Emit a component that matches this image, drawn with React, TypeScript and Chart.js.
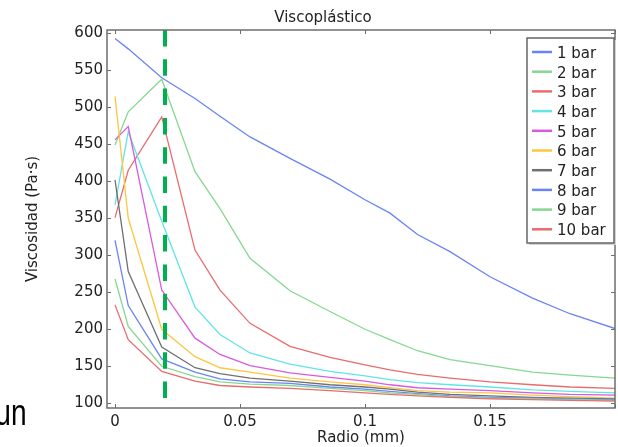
import { useEffect, useRef } from "react";
import { Chart, registerables } from "chart.js";

Chart.register(...registerables);

// ---- data ----
const radio = [0, 0.0053, 0.0187, 0.032, 0.042, 0.054, 0.07, 0.086, 0.1, 0.11, 0.121, 0.134, 0.15, 0.167, 0.182, 0.2];

const bar1 = [593, 579, 540, 512, 488, 460, 431, 403, 375, 357, 328, 305, 271, 242, 221, 201];
const bar2 = [449, 494, 538, 413, 363, 296, 252, 224, 200, 186, 171, 159, 151, 142, 138, 134];
const bar3 = [351, 415, 487, 307, 253, 208, 177, 162, 152, 145, 139, 134, 129, 125, 122, 120];
const bar4 = [368, 467, 346, 230, 193, 168, 153, 143, 137, 132, 128, 125, 122, 118, 116, 114];
const bar5 = [456, 474, 253, 188, 166, 151, 141, 135, 130, 125, 121, 119, 117, 114, 112, 111];
const bar6 = [515, 350, 200, 163, 148, 142, 134, 129, 125, 121, 117, 115, 114, 111, 109, 107];
const bar7 = [402, 278, 176, 148, 140, 134, 130, 125, 122, 119, 115, 112, 110, 108, 107, 106];
const bar8 = [320, 232, 160, 142, 133, 129, 127, 122, 119, 116, 113, 110, 108, 107, 106, 105];
const bar9 = [268, 204, 150, 136, 129, 126, 124, 120, 117, 114, 112, 109, 107, 106, 105, 104];
const bar10 = [233, 186, 143, 130, 124, 122, 120, 117, 114, 112, 110, 108, 106, 105, 104, 103];

const seriesValues = [bar1, bar2, bar3, bar4, bar5, bar6, bar7, bar8, bar9, bar10];
const seriesLabels = ["1 bar", "2 bar", "3 bar", "4 bar", "5 bar", "6 bar", "7 bar", "8 bar", "9 bar", "10 bar"];
const seriesColors = [
  "#6a84f6", "#86d890", "#e86c6c", "#62e4e6", "#d85ade",
  "#fcc641", "#707070", "#6a84f6", "#86d890", "#e86c6c",
];

const xTickLabels = [0, 0.05, 0.1, 0.15];
const xTickMarks = [0, 0.05, 0.1, 0.15, 0.2];
const yTicks = [100, 150, 200, 250, 300, 350, 400, 450, 500, 550, 600];
const xMin = -0.0032;
const xMax = 0.2;
const yMin = 93.6;
const yMax = 604.5;
const markerRadius = 0.02;

const chartTitle = "Viscoplástico";
const xTitle = "Radio (mm)";
const yTitle = "Viscosidad (Pa·s)";
const sideText = "un";

const FONT = '"DejaVu Sans", sans-serif';

const decorPlugin = {
  id: "decor",
  afterDatasetsDraw(chart: any) {
    const { ctx, chartArea: a, scales } = chart;
    const px = scales.x.getPixelForValue(markerRadius);
    ctx.save();
    ctx.beginPath();
    ctx.rect(a.left, a.top, a.right - a.left, a.bottom - a.top);
    ctx.clip();
    ctx.strokeStyle = "#00b050";
    ctx.lineWidth = 4;
    ctx.setLineDash([16.5, 12.8]);
    ctx.beginPath();
    ctx.moveTo(px, a.top);
    ctx.lineTo(px, a.bottom);
    ctx.stroke();
    ctx.restore();
  },
  afterDraw(chart: any) {
    const { ctx, chartArea: a, scales } = chart;
    ctx.save();
    // frame
    ctx.strokeStyle = "#6e6e6e";
    ctx.lineWidth = 1.5;
    ctx.strokeRect(a.left, a.top, a.right - a.left, a.bottom - a.top);
    // inward tick marks
    ctx.lineWidth = 1;
    ctx.beginPath();
    yTicks.forEach((v) => {
      const py = Math.round(scales.y.getPixelForValue(v)) + 0.5;
      ctx.moveTo(a.left, py);
      ctx.lineTo(a.left + 4, py);
      ctx.moveTo(a.right, py);
      ctx.lineTo(a.right - 4, py);
    });
    xTickMarks.forEach((v) => {
      const px = Math.round(scales.x.getPixelForValue(v)) + 0.5;
      ctx.moveTo(px, a.bottom);
      ctx.lineTo(px, a.bottom - 4);
      ctx.moveTo(px, a.top);
      ctx.lineTo(px, a.top + 4);
    });
    ctx.stroke();

    // title
    ctx.fillStyle = "#222";
    ctx.font = `15px ${FONT}`;
    ctx.textAlign = "center";
    ctx.textBaseline = "alphabetic";
    ctx.fillText(chartTitle, 323, 21.5);

    // legend
    const lx = 527, ly = 38, lw = 87, lh = 205;
    ctx.fillStyle = "#d4d4d4";
    ctx.fillRect(lx + 2, ly + 2, lw, lh);
    ctx.fillStyle = "#ffffff";
    ctx.fillRect(lx, ly, lw, lh);
    ctx.strokeStyle = "#666";
    ctx.lineWidth = 1.5;
    ctx.strokeRect(lx, ly, lw, lh);
    ctx.textAlign = "left";
    ctx.font = `15px ${FONT}`;
    chart.data.datasets.forEach((ds: any, i: number) => {
      const cy = 52 + i * 19.7;
      ctx.strokeStyle = ds.borderColor;
      ctx.lineWidth = 2.5;
      ctx.beginPath();
      ctx.moveTo(lx + 5, cy);
      ctx.lineTo(lx + 25, cy);
      ctx.stroke();
      ctx.fillStyle = "#222";
      ctx.fillText(ds.label, lx + 30, cy + 5.8);
    });

    // stray text at bottom-left (condensed)
    ctx.fillStyle = "#000";
    ctx.font = '36px "Liberation Sans", sans-serif';
    ctx.textAlign = "left";
    ctx.translate(-4.7, 424.5);
    ctx.scale(0.78, 1);
    ctx.fillText(sideText, 0, 0);
    ctx.restore();
  },
};

export default function App() {
  const ref = useRef<HTMLCanvasElement>(null);

  useEffect(() => {
    if (!ref.current) return;
    const datasets = seriesValues.map((vals, i) => ({
      label: seriesLabels[i],
      data: radio.map((r, k) => ({ x: r, y: vals[k] })),
      borderColor: seriesColors[i],
      backgroundColor: seriesColors[i],
      borderWidth: 1.3,
      pointRadius: 0,
      tension: 0,
      fill: false,
      order: seriesValues.length - i,
    }));

    const chart = new Chart(ref.current, {
      type: "line",
      data: { datasets },
      options: {
        animation: false,
        responsive: false,
        devicePixelRatio: 1,
        layout: { padding: { top: 30, right: 3, left: 0, bottom: 0 } },
        plugins: {
          legend: { display: false },
          tooltip: { enabled: false },
          title: { display: false },
        },
        scales: {
          x: {
            type: "linear",
            min: xMin,
            max: xMax,
            grid: { display: false, drawTicks: false },
            border: { display: false },
            afterBuildTicks: (s: any) => {
              s.ticks = xTickLabels.map((v) => ({ value: v }));
            },
            afterFit: (s: any) => {
              s.height = 39;
            },
            ticks: {
              padding: 5,
              color: "#222",
              font: { family: FONT, size: 15 },
              maxRotation: 0,
              callback: (v: any) => String(v),
            },
            title: {
              display: true,
              text: xTitle,
              color: "#222",
              font: { family: FONT, size: 15 },
              padding: { top: 0, bottom: 0 },
            },
          },
          y: {
            type: "linear",
            min: yMin,
            max: yMax,
            grid: { display: false, drawTicks: false },
            border: { display: false },
            afterBuildTicks: (s: any) => {
              s.ticks = yTicks.map((v) => ({ value: v }));
            },
            afterFit: (s: any) => {
              s.width = 107;
            },
            ticks: {
              padding: 4,
              color: "#222",
              font: { family: FONT, size: 15 },
              callback: (v: any) => String(v),
            },
            title: {
              display: true,
              text: yTitle,
              color: "#222",
              font: { family: FONT, size: 15 },
              padding: { top: 24, bottom: 0 },
            },
          },
        },
      },
      plugins: [decorPlugin],
    });
    return () => chart.destroy();
  }, []);

  return (
    <div style={{ position: "fixed", left: 0, top: 0, width: 618, height: 447, background: "#fff" }}>
      <canvas ref={ref} width={618} height={447} style={{ width: 618, height: 447, display: "block" }} />
    </div>
  );
}
